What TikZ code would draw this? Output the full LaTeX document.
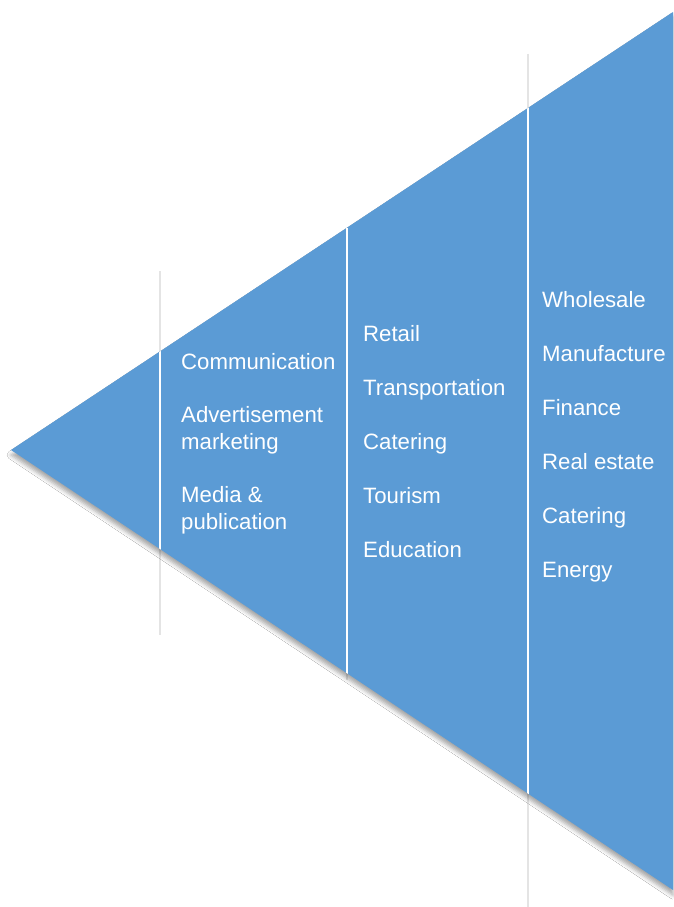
\documentclass[tikz,border=0pt]{standalone}
\usepackage{fontspec}
\setmainfont{Liberation Sans}
\usetikzlibrary{shadows.blur}
\definecolor{triblue}{HTML}{5B9BD5}
\definecolor{linegray}{HTML}{E4E4E4}
\tikzset{
  item/.style={anchor=base west, inner sep=0pt, text=white, align=left,
    font=\fontsize{22.2}{27}\selectfont},
  outline/.style={draw=linegray, line width=1.3pt},
  inline/.style={draw=white, line width=1.6pt}
}
\begin{document}
\begin{tikzpicture}[x=1pt,y=-1pt]
\useasboundingbox[fill=white] (0,0) rectangle (673,907);
% corners of triangle
\coordinate (apex) at (11,450);
\coordinate (tr) at (673,12);
\coordinate (br) at (673,890);
% column separator ends
\coordinate (l1t) at (160,271);
\coordinate (l1b) at (160,635);
\coordinate (l2t) at (347,228);
\coordinate (l2b) at (347,680);
\coordinate (l3t) at (528,54);
\coordinate (l3b) at (528,907);
% faint lines behind
\draw[outline] (l1t) -- (l1b);
\draw[outline] (l2t) -- (l2b);
\draw[outline] (l3t) -- (l3b);
% triangle
\fill[triblue, blur shadow={shadow xshift=0pt, shadow yshift=-5pt, shadow blur radius=4pt, shadow opacity=35}] (apex) -- (tr) -- (br) -- cycle;
\begin{scope}
\clip (apex) -- (tr) -- (br) -- cycle;
\draw[inline] (l1t) -- (l1b);
\draw[inline] (l2t) -- (l2b);
\draw[inline] (l3t) -- (l3b);
\end{scope}
% column 1
\node[item] (comm) at (181,369) {Communication};
\node[item] (adv) at (181,449) {Advertisement\\marketing};
\node[item] (media) at (181,529) {Media \&\\publication};
% column 2
\node[item] (retail) at (363,341) {Retail};
\node[item] (trans) at (363,395) {Transportation};
\node[item] (cat1) at (363,449) {Catering};
\node[item] (tour) at (363,503) {Tourism};
\node[item] (edu) at (363,557) {Education};
% column 3
\node[item] (whole) at (542,307) {Wholesale};
\node[item] (manu) at (542,361) {Manufacture};
\node[item] (fin) at (542,415) {Finance};
\node[item] (real) at (542,469) {Real estate};
\node[item] (cat2) at (542,523) {Catering};
\node[item] (energy) at (542,577) {Energy};
\end{tikzpicture}
\end{document}
